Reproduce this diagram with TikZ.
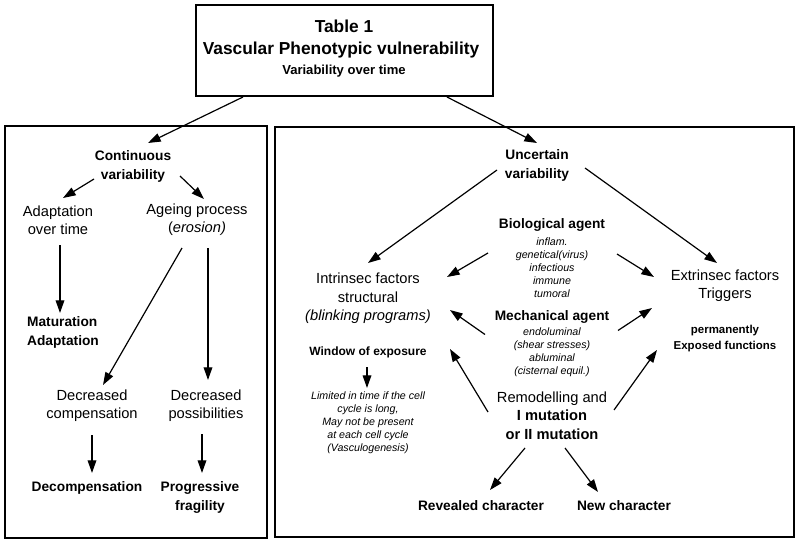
\documentclass[tikz,border=0pt]{standalone}
\usepackage{fontspec}
\setmainfont{Liberation Sans}
\usetikzlibrary{calc,arrows.meta}

\begin{document}
\begin{tikzpicture}[x=0.75pt, y=-0.75pt,
  every node/.style={align=center, inner sep=0pt},
  hd/.style={font=\fontsize{10.3}{14.25}\selectfont\bfseries},
  txt/.style={font=\fontsize{11}{13.8}\selectfont},
  sml/.style={font=\fontsize{8}{9.7}\selectfont\itshape},
  arr/.style={-{Triangle[length=9.5pt,width=6.5pt]}, line width=0.9pt}]
	\useasboundingbox (0,0) rectangle (800,542);
	% title box
	\node[draw, line width=1.6pt, minimum width=222.75pt, minimum height=68.25pt] (title) at (344.5,50.5) {};
	\node[font=\fontsize{13}{16}\selectfont\bfseries] (tabno) at (344,26) {Table 1};
	\node[font=\fontsize{13}{16}\selectfont\bfseries] (tabname) at (341,50) {Vascular Phenotypic vulnerability};
	\node[font=\fontsize{9.8}{12}\selectfont\bfseries] (tabsub) at (344,71) {Variability over time};
	% panels
	\draw[line width=1.1pt] (5,126) rectangle (267,538);
	\draw[line width=1.1pt] (275,127) rectangle (794,537);
	% left panel
	\node[hd] (cont) at (133,166.5) {Continuous\\variability};
	\node[txt] (adapt) at (58,220) {Adaptation\\over time};
	\node[txt] (ageing) at (197,220) {Ageing process\\(\textit{erosion)}};
	\node[hd, align=left] (matur) at (63,332.5) {Maturation\\Adaptation};
	\node[txt] (deccomp) at (92,406) {Decreased\\compensation};
	\node[txt] (decposs) at (206,406) {Decreased\\possibilities};
	\node[hd] (decomp) at (87,488) {Decompensation};
	\node[hd] (fragil) at (200,497.5) {Progressive\\fragility};
	% right panel
	\node[hd] (uncert) at (537,165) {Uncertain\\variability};
	\node[hd] (bio) at (552,225) {Biological agent};
	\node[sml] (biolist) at (552,267.5) {inflam.\\genetical(virus)\\infectious\\immune\\tumoral};
	\node[hd] (mech) at (552,317) {Mechanical agent};
	\node[sml] (mechlist) at (552,352.5) {endoluminal\\(shear stresses)\\abluminal\\(cisternal equil.)};
	\node[txt] (remod) at (552,415.5) {Remodelling and\\\textbf{I mutation}\\\textbf{or II mutation}};
	\node[txt] (intr) at (368,298.5) {Intrinsec factors\\structural\\\textit{(blinking programs)}};
	\node[hd, font=\fontsize{9}{12}\selectfont\bfseries] (window) at (368,352) {Window of exposure};
	\node[sml] (limited) at (368,423) {Limited in time if the cell\\cycle is long,\\May not be present\\at each cell cycle\\(Vasculogenesis)};
	\node[txt] (extr) at (725,286) {Extrinsec factors\\Triggers};
	\node[hd, font=\fontsize{8.6}{12}\selectfont\bfseries] (perm) at (725,339) {permanently\\Exposed functions};
	\node[hd] (revealed) at (481,506) {Revealed character};
	\node[hd] (newchar) at (624,506) {New character};
	% arrows
	\draw[arr] ($(title)+(-101.5,46.5)$) -- ($(cont)+(15,-23.5)$);
	\draw[arr] ($(title)+(102.5,46.5)$) -- ($(uncert)+(0,-22)$);
	\draw[arr] ($(cont)+(-39,12.5)$) -- ($(adapt)+(5,-22)$);
	\draw[arr] ($(cont)+(47,9.5)$) -- ($(ageing)+(7,-21)$);
	\draw[arr] ($(adapt)+(2,25)$) -- ($(matur)+(-3,-19.5)$);
	\draw[arr] ($(ageing)+(-15,28)$) -- ($(deccomp)+(11,-21)$);
	\draw[arr] ($(ageing)+(11,28)$) -- ($(decposs)+(2,-26)$);
	\draw[arr] ($(deccomp)+(0,29)$) -- ($(decomp)+(5,-15)$);
	\draw[arr] ($(decposs)+(-4,28)$) -- ($(fragil)+(2,-24.5)$);
	\draw[arr] ($(uncert)+(-40,5)$) -- ($(intr)+(0,-35.5)$);
	\draw[arr] ($(uncert)+(48,3)$) -- ($(extr)+(-8,-23)$);
	\draw[arr] ($(biolist)+(-64,-14.5)$) -- ($(intr)+(79,-21.5)$);
	\draw[arr] ($(mechlist)+(-67,-18)$) -- ($(intr)+(82,11.5)$);
	\draw[arr] ($(remod)+(-64,-3.5)$) -- ($(window)+(82,-3)$);
	\draw[arr] ($(biolist)+(65,-13.5)$) -- ($(extr)+(-71,-9)$);
	\draw[arr] ($(mechlist)+(66,-22)$) -- ($(extr)+(-73,22)$);
	\draw[arr] ($(remod)+(62,-5.5)$) -- ($(perm)+(-68,11)$);
	\draw[arr] ($(remod)+(-27,32.5)$) -- ($(revealed)+(9,-16)$);
	\draw[arr] ($(remod)+(13,32.5)$) -- ($(newchar)+(-26,-14)$);
	\draw[arr] ($(window)+(-1,15)$) -- ($(limited)+(-1,-35)$);
\end{tikzpicture}
\end{document}
